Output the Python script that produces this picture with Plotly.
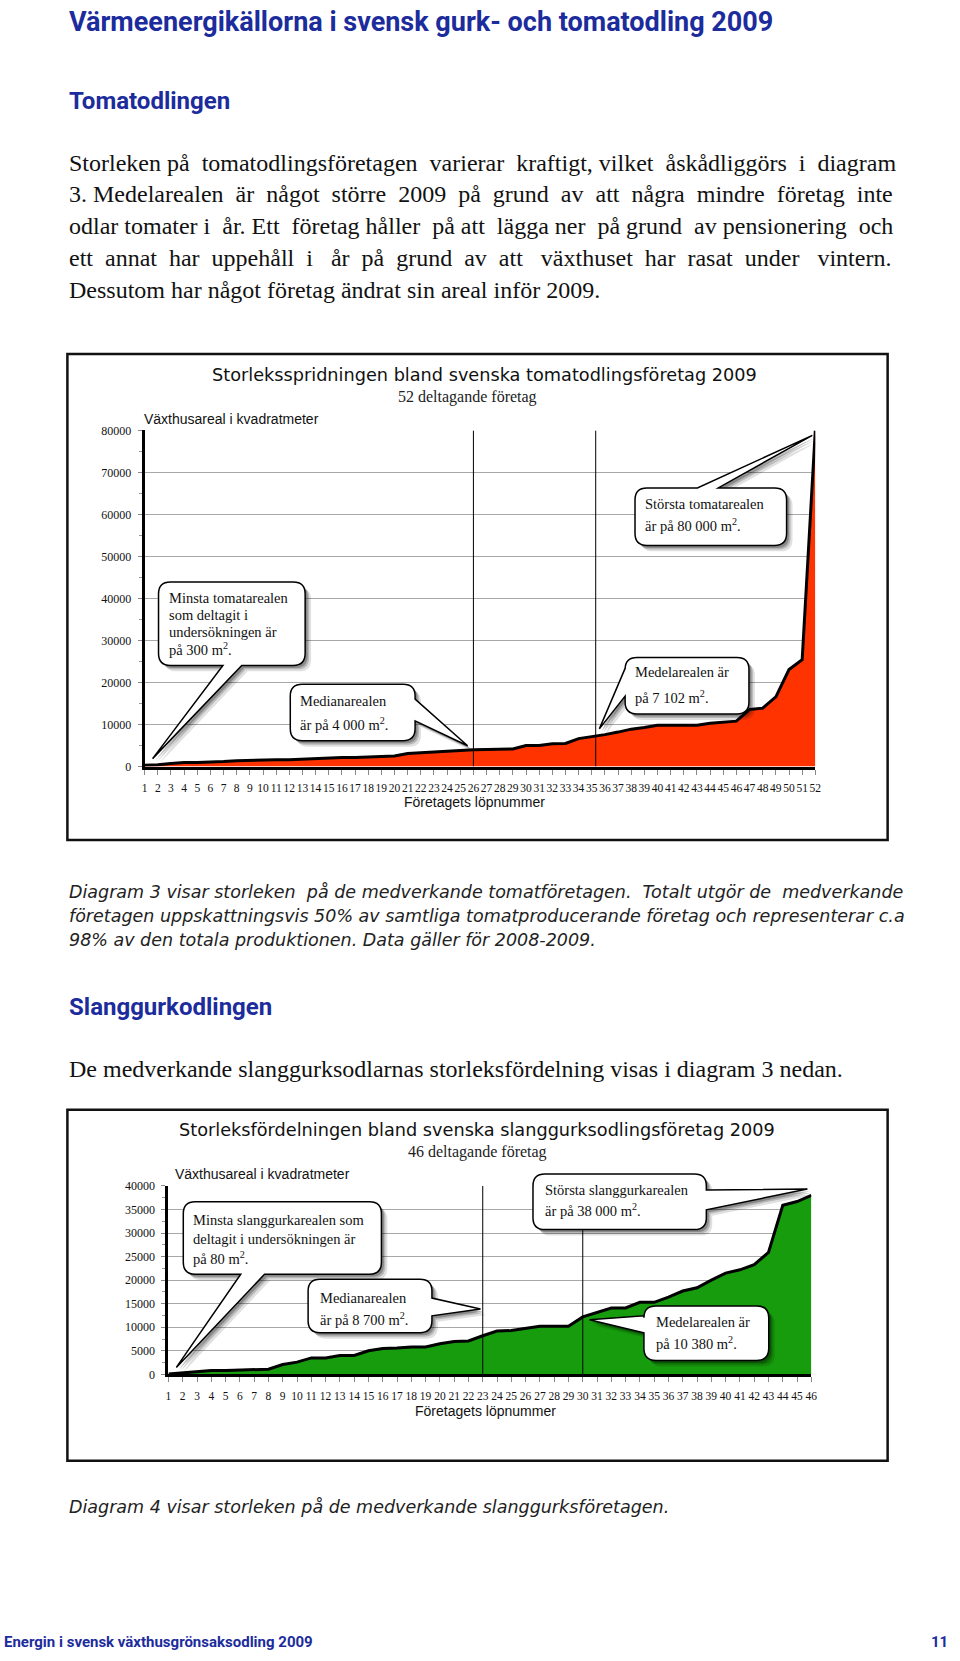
import plotly.graph_objects as go

W, H = 960, 1661

# ---------------- data ----------------
tomato_ids = list(range(1, 53))
tomato_area = [300, 400, 700, 950, 950, 1000, 1200, 1400, 1500, 1500,
               1600, 1600, 1750, 1900, 2150, 2150, 2150, 2300, 2500, 2500,
               3100, 3300, 3500, 3650, 3900, 4000, 4070, 4070, 4200, 5000,
               5000, 5400, 5500, 6650, 7100, 7600, 8200, 8900, 9300, 9800,
               9850, 9850, 9850, 10300, 10600, 10800, 13600, 13900, 16600, 23100,
               25400, 80000]
tomato_yticks = [0, 10000, 20000, 30000, 40000, 50000, 60000, 70000, 80000]
tomato_median_pos = 26
tomato_mean_pos = 35.3

cucumber_ids = list(range(1, 47))
cucumber_area = [80, 300, 500, 800, 800, 900, 1000, 1100, 2100, 2600,
                 3500, 3500, 4000, 4000, 5000, 5500, 5600, 5800, 5800, 6500,
                 7000, 7100, 8200, 9200, 9300, 9800, 10200, 10200, 10200, 12200,
                 13200, 14100, 14100, 15300, 15300, 16400, 17700, 18400, 20000, 21500,
                 22200, 23300, 25900, 35900, 36700, 38000]
cucumber_yticks = [0, 5000, 10000, 15000, 20000, 25000, 30000, 35000, 40000]
cucumber_median_pos = 23
cucumber_mean_pos = 30
cucumber_mean_line_top = 30700

# ---------------- helpers ----------------
def fx(x):
    return x / W

def fy(y):
    return 1 - y / H

BLUE = "#1c2c9c"
SERIF = "Liberation Serif"
SANS = "Liberation Sans"
HEAD = "Roboto"
NB = "\u00a0"

annotations = []
shapes = []

def text(x, y, s, size, family, color="#111", xanchor="left", yanchor="middle",
         weight="normal", style="normal"):
    annotations.append(dict(
        x=fx(x), y=fy(y), xref="paper", yref="paper", text=s, showarrow=False,
        xanchor=xanchor, yanchor=yanchor, borderpad=0,
        font=dict(size=size, family=family, color=color, weight=weight, style=style),
    ))

def justify(line, n):
    words = line.split(" ")
    gaps = len(words) - 1
    out = words[0]
    for i in range(1, len(words)):
        k = (n * i) // gaps - (n * (i - 1)) // gaps
        out += " " + NB * k + words[i]
    return out

def P(x, y):
    return f"{fx(x):.5f},{fy(y):.5f}"

def bubble_path(x0, y0, x1, y1, r, edge, a, b, tip, dx=0, dy=0):
    x0 += dx; x1 += dx; y0 += dy; y1 += dy
    tx, ty = tip[0] + dx, tip[1] + dy
    lo, hi = min(a, b), max(a, b)
    if edge in ("top", "bottom"):
        lo += dx; hi += dx
    else:
        lo += dy; hi += dy
    d = f"M {P(x0 + r, y0)}"
    if edge == "top":
        d += f" L {P(lo, y0)} L {P(tx, ty)} L {P(hi, y0)}"
    d += f" L {P(x1 - r, y0)} Q {P(x1, y0)} {P(x1, y0 + r)}"
    if edge == "right":
        d += f" L {P(x1, lo)} L {P(tx, ty)} L {P(x1, hi)}"
    d += f" L {P(x1, y1 - r)} Q {P(x1, y1)} {P(x1 - r, y1)}"
    if edge == "bottom":
        d += f" L {P(hi, y1)} L {P(tx, ty)} L {P(lo, y1)}"
    d += f" L {P(x0 + r, y1)} Q {P(x0, y1)} {P(x0, y1 - r)}"
    if edge == "left":
        d += f" L {P(x0, hi)} L {P(tx, ty)} L {P(x0, lo)}"
    d += f" L {P(x0, y0 + r)} Q {P(x0, y0)} {P(x0 + r, y0)} Z"
    return d

def bubble(box, edge, a, b, tip, lines, tx, ty0, dy_line=17, size=14.5):
    x0, y0, x1, y1 = box
    for off, op in ((6, 0.12), (4, 0.18), (2.5, 0.25)):
        shapes.append(dict(type="path", xref="paper", yref="paper", layer="above",
                           path=bubble_path(x0, y0, x1, y1, 12, edge, a, b, tip, off, off),
                           fillcolor=f"rgba(0,0,0,{op})", line=dict(width=0)))
    shapes.append(dict(type="path", xref="paper", yref="paper", layer="above",
                       path=bubble_path(x0, y0, x1, y1, 12, edge, a, b, tip),
                       fillcolor="white", line=dict(color="black", width=1.5)))
    for i, ln in enumerate(lines):
        yy = ty0 + i * dy_line
        text(tx, yy, ln, size, SERIF, color="#111")

# ---------------- page text ----------------
text(66, 15, "Värmeenergikällorna i svensk gurk- och tomatodling 2009", 27, HEAD, BLUE, weight="bold")
text(66, 95, "Tomatodlingen", 24, HEAD, BLUE, weight="bold")

para = [
    ("Storleken på tomatodlingsföretagen varierar kraftigt, vilket åskådliggörs i diagram", 6),
    ("3. Medelarealen är något större 2009 på grund av att några mindre företag inte", 12),
    ("odlar tomater i år. Ett företag håller på att lägga ner på grund av pensionering och", 7),
    ("ett annat har uppehåll i år på grund av att växthuset har rasat under vintern.", 17),
    ("Dessutom har något företag ändrat sin areal inför 2009.", 0),
]
for i, (ln, n) in enumerate(para):
    text(66, 157 + i * 32, justify(ln, n), 24, SERIF, "#111")

ital = [
    ("Diagram 3 visar storleken på de medverkande tomatföretagen. Totalt utgör de medverkande", 3),
    ("företagen uppskattningsvis 50% av samtliga tomatproducerande företag och representerar c.a", 0),
    ("98% av den totala produktionen. Data gäller för 2008-2009.", 0),
]
for i, (ln, n) in enumerate(ital):
    text(66, 893 + i * 24, justify(ln, n), 17.5, "DejaVu Sans", "#222", style="italic")

text(66, 1008, "Slanggurkodlingen", 24, HEAD, BLUE, weight="bold")
text(66, 1071, "De medverkande slanggurksodlarnas storleksfördelning visas i diagram 3 nedan.", 24, SERIF, "#111")
text(66, 1513, "Diagram 4 visar storleken på de medverkande slanggurksföretagen.", 17.5, "DejaVu Sans", "#222", style="italic")
text(0, 1649, "Energin i svensk växthusgrönsaksodling 2009", 15, HEAD, BLUE, weight="bold")
text(955, 1649, "11", 15, HEAD, BLUE, xanchor="right", weight="bold")

# ---------------- chart frames ----------------
for (x0, y0, x1, y1) in ((65, 350, 893, 840), (65, 1112, 893, 1466)):
    shapes.append(dict(type="rect", xref="paper", yref="paper", layer="below",
                       x0=fx(x0), x1=fx(x1), y0=fy(y0), y1=fy(y1),
                       line=dict(color="#111", width=2.5), fillcolor="white"))

# chart 1 texts
text(486, 371, "Storleksspridningen bland svenska tomatodlingsföretag 2009", 17.7, "DejaVu Sans", "#111", xanchor="center")
text(469, 393, "52 deltagande företag", 16, SERIF, "#222", xanchor="center")
text(141, 415, "Växthusareal i kvadratmeter", 14, SANS, "#111")
text(476, 802, "Företagets löpnummer", 14, SANS, "#111", xanchor="center")

# chart 2 texts
text(478, 1133, "Storleksfördelningen bland svenska slanggurksodlingsföretag 2009", 17.7, "DejaVu Sans", "#111", xanchor="center")
text(479, 1155, "46 deltagande företag", 16, SERIF, "#222", xanchor="center")
text(173, 1177, "Växthusareal i kvadratmeter", 14, SANS, "#111")
text(487, 1416, "Företagets löpnummer", 14, SANS, "#111", xanchor="center")

# ---------------- traces ----------------
fig = go.Figure()
fig.add_trace(go.Scatter(x=tomato_ids, y=tomato_area, mode="lines", fill="tozeroy",
                         fillcolor="#ff3300", line=dict(color="black", width=3),
                         xaxis="x", yaxis="y", hoverinfo="skip"))
fig.add_trace(go.Scatter(x=cucumber_ids, y=cucumber_area, mode="lines", fill="tozeroy",
                         fillcolor="#169c0c", line=dict(color="black", width=3),
                         xaxis="x2", yaxis="y2", hoverinfo="skip"))

# median / mean lines
shapes.append(dict(type="line", xref="x", yref="y", layer="above", x0=tomato_median_pos, x1=tomato_median_pos,
                   y0=0, y1=80000, line=dict(color="black", width=1)))
shapes.append(dict(type="line", xref="x", yref="y", layer="above", x0=tomato_mean_pos, x1=tomato_mean_pos,
                   y0=0, y1=80000, line=dict(color="black", width=1)))
shapes.append(dict(type="line", xref="x2", yref="y2", layer="above", x0=cucumber_median_pos, x1=cucumber_median_pos,
                   y0=0, y1=40000, line=dict(color="black", width=1)))
shapes.append(dict(type="line", xref="x2", yref="y2", layer="above", x0=cucumber_mean_pos, x1=cucumber_mean_pos,
                   y0=0, y1=cucumber_mean_line_top, line=dict(color="black", width=1)))

# ---------------- callouts ----------------
sq = "m<sup>2</sup>."
bubble((157, 580, 305, 664), "bottom", 222, 241, (151, 758),
       ["Minsta tomatarealen", "som deltagit i", "undersökningen är", "på 300 " + sq], 167, 596, 17)
bubble((290, 683, 416, 740), "right", 698, 720, (469, 745),
       ["Medianarealen", "är på 4 000 " + sq], 299, 700, 23)
bubble((628, 656, 753, 713), "left", 667, 695, (602, 728),
       ["Medelarealen är", "på 7 102 " + sq], 637, 671, 25)
bubble((638, 485, 791, 543), "top", 701, 722, (817, 432),
       ["Största tomatarealen", "är på 80 000 " + sq], 647, 501, 21)

bubble((182, 1205, 382, 1278), "bottom", 240, 264, (175, 1372),
       ["Minsta slanggurkarealen som", "deltagit i undersökningen är", "på 80 " + sq], 191, 1223, 19.5)
bubble((308, 1283, 433, 1337), "right", 1302, 1320, (482, 1313),
       ["Medianarealen", "är på 8 700 " + sq], 319, 1302, 21)
bubble((535, 1177, 710, 1233), "right", 1193, 1213, (812, 1192),
       ["Största slanggurkarealen", "är på 38 000 " + sq], 546, 1193, 20)
bubble((647, 1310, 773, 1365), "left", 1320, 1337, (592, 1324),
       ["Medelarealen är", "på 10 380 " + sq], 658, 1326, 21)

# ---------------- axes ----------------
def xaxis_cfg(x0, x1, n, anchor, fsize):
    return dict(domain=[fx(x0), fx(x1)], range=[1, n], anchor=anchor,
                tickmode="array", tickvals=list(range(1, n + 1)),
                ticktext=[str(i) for i in range(1, n + 1)], tickangle=0,
                tickfont=dict(family=SERIF, size=fsize, color="#111"),
                ticks="outside", ticklen=5, tickcolor="#888", tickwidth=1,
                showline=True, linewidth=3, linecolor="black",
                showgrid=False, zeroline=False, fixedrange=True, ticklabelstandoff=4)

def yaxis_cfg(y0, y1, vals, anchor, minor_dt):
    return dict(domain=[fy(y0), fy(y1)], range=[0, vals[-1]], anchor=anchor,
                tickmode="array", tickvals=vals, ticktext=[str(v) for v in vals],
                tickfont=dict(family=SERIF, size=12, color="#111"),
                ticks="outside", ticklen=4, tickcolor="#888", tickwidth=1,
                showline=True, linewidth=3, linecolor="black",
                showgrid=True, gridcolor="#a8a8a8", gridwidth=1,
                zeroline=False, fixedrange=True, ticklabelstandoff=4,
                minor=dict(dtick=minor_dt, ticklen=3, tickcolor="#999", ticks="outside", showgrid=False))

fig.update_layout(
    width=W, height=H, margin=dict(l=0, r=0, t=0, b=0),
    paper_bgcolor="white", plot_bgcolor="white", showlegend=False,
    xaxis=xaxis_cfg(143, 820, 52, "y", 11.5),
    yaxis=yaxis_cfg(766, 427, tomato_yticks, "x", 5000),
    xaxis2=xaxis_cfg(167, 816, 46, "y2", 11.5),
    yaxis2=yaxis_cfg(1379, 1189, cucumber_yticks, "x2", 2500),
    annotations=annotations, shapes=shapes,
)

fig.write_html("out.html")
